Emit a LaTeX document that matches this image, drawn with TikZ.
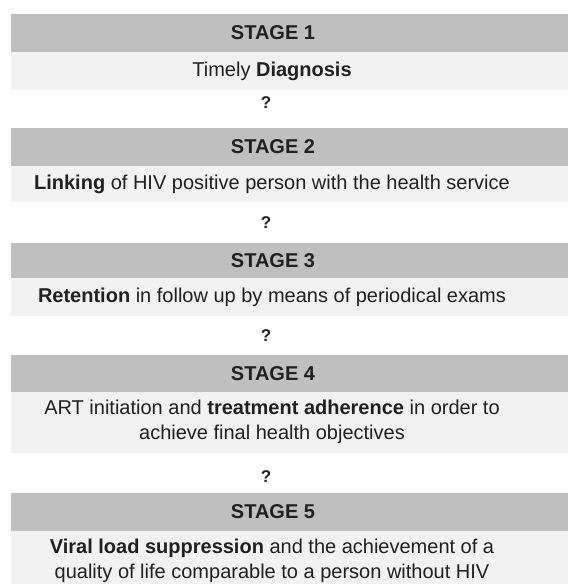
\documentclass[tikz,border=0pt]{standalone}
\usepackage{fontspec}
\setmainfont{Liberation Sans}

\definecolor{headgray}{HTML}{BFBFBF}
\definecolor{bodygray}{HTML}{F2F2F2}
\definecolor{inkgray}{HTML}{202020}

\begin{document}
\begin{tikzpicture}[
        x=1pt, y=-1pt,
        % Fasce grigie: intestazione scura, corpo chiaro
        headband/.style={fill=headgray},
        bodyband/.style={fill=bodygray},
        header/.style={
            font=\fontsize{20}{24}\selectfont\bfseries,
            text=inkgray,
            inner sep=0pt
        },
        body/.style={
            font=\fontsize{20}{25}\selectfont,
            text=inkgray,
            align=center,
            inner sep=0pt
        },
        step mark/.style={
            font=\fontsize{17}{20}\selectfont\bfseries,
            text=inkgray,
            inner sep=0pt
        }
    ]

    \useasboundingbox (0,0) rectangle (568,584);

    % --- Fasce e titoli delle fasi ---
    \foreach \n/\top/\mid/\bot in {1/14/52/90, 2/128/166/202, 3/243/278/316, 4/355/392/453, 5/493/531/584} {
        \fill[headband] (11,\top) rectangle (568,\mid);
        \fill[bodyband] (11,\mid) rectangle (568,\bot);
        \node[header] (h\n) at (273,{(\top+\mid)/2}) {STAGE \n};
    }

    % Testo delle fasi
    \node[body] (b1) at (272,71) {Timely \textbf{Diagnosis}};
    \node[body] (b2) at (272,184) {\textbf{Linking} of HIV positive person with the health service};
    \node[body] (b3) at (272,297) {\textbf{Retention} in follow up by means of periodical exams};
    \node[body] (b4) at (272,422) {ART initiation and \textbf{treatment adherence} in order to\\achieve final health objectives};
    \node[body] (b5) at (272,561) {\textbf{Viral load suppression} and the achievement of a\\quality of life comparable to a person without HIV};

    % Segni tra una fase e la successiva
    \foreach \i/\y in {1/103, 2/223, 3/336, 4/477} {
        \node[step mark] (q\i) at (266,\y) {?};
    }

\end{tikzpicture}
\end{document}
